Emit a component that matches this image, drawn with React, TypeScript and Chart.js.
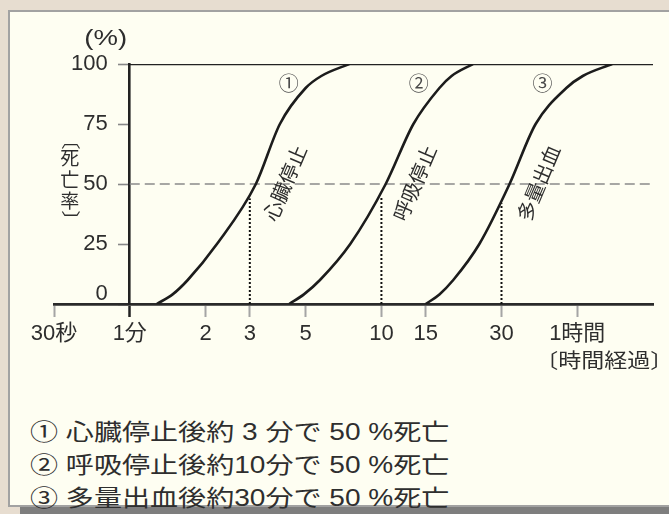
import React, { useEffect, useRef } from 'react';
import { Chart, registerables } from 'chart.js';

Chart.register(...registerables);

// ---- data ----
const xTickValues = [0.5, 1, 2, 3, 5, 10, 15, 30, 60];
const xTickLabels = ['30秒', '1分', '2', '3', '5', '10', '15', '30', '1時間'];
const yTickValues = [0, 25, 50, 75, 100];
const xMin = 0.5;
const xMax = 120;

const deathRate = [0, 4, 10, 25, 50, 75, 90, 95, 100];
const cardiacArrestMin = [1.28, 1.48, 1.7, 2.22, 3.17, 3.95, 5.0, 5.77, 7.45];
const respiratoryArrestMin = [4.3, 4.92, 5.7, 7.52, 10.4, 13.4, 17.0, 19.0, 23.1];
const hemorrhageMin = [15, 17, 19.3, 24.5, 32.3, 41, 54.3, 63.1, 82.6];

const curveNames = ['心臓停止', '呼吸停止', '多量出血'];
const curveMarks = ['①', '②', '③'];
const halfDeathMin = [3, 10, 30];
const halfDeathGuideTop = [44, 45, 42];
const referenceLevel = 50;
const topLevel = 100;

const yTitle = '(%)';
const yName = ['死', '亡', '率'];
const yNameBrackets = ['〔', '〕'];
const xName = '〔時間経過〕';
const notes = [
  '① 心臓停止後約 3 分で 50 %死亡',
  '② 呼吸停止後約10分で 50 %死亡',
  '③ 多量出血後約30分で 50 %死亡',
];

const LATIN = "'Liberation Sans', 'Noto Sans CJK JP', sans-serif";
const CJK = "'Noto Sans CJK JP', sans-serif";
const TEXT = '#2e2e2e';

const annotate = {
  id: 'annotate',
  afterDatasetsDraw(chart: any) {
    const { ctx, scales } = chart;
    const x = scales.x;
    const y = scales.y;
    const axisX = x.getPixelForValue(1);
    ctx.save();
    ctx.fillStyle = TEXT;
    ctx.textAlign = 'center';
    ctx.textBaseline = 'middle';

    // (%)
    ctx.save();
    ctx.translate(axisX - 24, y.getPixelForValue(100) - 25);
    ctx.scale(1.25, 1);
    ctx.font = `22px ${LATIN}`;
    ctx.fillText(yTitle, 0, 0);
    ctx.restore();

    // vertical 〔死亡率〕
    const vx = axisX - 60;
    const vy = y.getPixelForValue(50);
    ctx.font = `19px ${CJK}`;
    const offs = [-26, -4, 17];
    yName.forEach((ch, i) => ctx.fillText(ch, vx, vy + offs[i]));
    const bracket = (ch: string, by: number) => {
      ctx.save();
      ctx.translate(vx, by);
      ctx.rotate(Math.PI / 2);
      ctx.fillText(ch, 0, 0);
      ctx.restore();
    };
    bracket(yNameBrackets[0], vy - 44);
    bracket(yNameBrackets[1], vy + 36);

    // curve labels and marks
    const curves = [cardiacArrestMin, respiratoryArrestMin, hemorrhageMin];
    const mid = deathRate.indexOf(referenceLevel);
    curves.forEach((c, i) => {
      const px = x.getPixelForValue(c[mid]);
      const py = y.getPixelForValue(referenceLevel);
      ctx.save();
      ctx.translate(px + 29, py - 1);
      ctx.rotate((-67 * Math.PI) / 180);
      ctx.font = `20px ${CJK}`;
      ctx.fillText(curveNames[i], 0, 0);
      ctx.restore();
      ctx.save();
      ctx.fillStyle = '#4a4a4a';
      ctx.font = `20px ${CJK}`;
      ctx.fillText(curveMarks[i], px + 33, y.getPixelForValue(92));
      ctx.restore();
    });

    // x title
    ctx.save();
    ctx.translate(x.getPixelForValue(60) - 42, y.getPixelForValue(0) + 56);
    ctx.scale(1.15, 1);
    ctx.textAlign = 'left';
    ctx.font = `20px ${CJK}`;
    ctx.fillText(xName, 0, 0);
    ctx.restore();

    ctx.restore();
  },
};

export default function App() {
  const canvasRef = useRef<HTMLCanvasElement>(null);

  useEffect(() => {
    const canvas = canvasRef.current;
    if (!canvas) return;
    const curves = [cardiacArrestMin, respiratoryArrestMin, hemorrhageMin];
    const chart = new Chart(canvas, {
      type: 'line',
      data: {
        datasets: [
          ...curves.map((c) => ({
            data: c.map((v, i) => ({ x: v, y: deathRate[i] })),
            borderColor: '#1c1c1c',
            borderWidth: 2.6,
            pointRadius: 0,
            cubicInterpolationMode: 'monotone' as const,
            fill: false,
          })),
          {
            data: [
              { x: 1, y: topLevel },
              { x: xMax, y: topLevel },
            ],
            borderColor: '#222',
            borderWidth: 2.6,
            pointRadius: 0,
          },
          {
            data: [
              { x: 1, y: referenceLevel },
              { x: xMax, y: referenceLevel },
            ],
            borderColor: '#8a8a8a',
            borderWidth: 1.3,
            borderDash: [10, 5],
            pointRadius: 0,
          },
          ...halfDeathMin.map((t, i) => ({
            data: [
              { x: t, y: 0 },
              { x: t, y: halfDeathGuideTop[i] },
            ],
            borderColor: '#111',
            borderWidth: 2,
            borderDash: [2, 2],
            pointRadius: 0,
          })),
        ],
      },
      options: {
        animation: false,
        responsive: false,
        layout: { padding: { left: 54, right: 16, top: 64, bottom: 0 } },
        plugins: { legend: { display: false }, tooltip: { enabled: false } },
        scales: {
          x: {
            type: 'logarithmic',
            min: xMin,
            max: xMax,
            afterBuildTicks: (s: any) => {
              s.ticks = xTickValues.map((v) => ({ value: v }));
            },
            afterFit: (s: any) => {
              s.height = 96;
            },
            ticks: {
              autoSkip: false,
              maxRotation: 0,
              padding: 4,
              color: TEXT,
              font: { family: LATIN, size: 22 },
              callback: (_v: any, i: number) => xTickLabels[i],
            },
            grid: {
              drawOnChartArea: false,
              tickLength: 13,
              tickColor: (ctx: any) => (ctx.tick && ctx.tick.value === 1 ? '#222' : '#a5a5a5'),
              tickWidth: (ctx: any) => (ctx.tick && ctx.tick.value === 1 ? 2.5 : 2),
            },
            border: { color: '#2a2a2a', width: 2.8 },
          },
          y: {
            type: 'linear',
            min: 0,
            max: 100,
            position: { x: 1 } as any,
            afterBuildTicks: (s: any) => {
              s.ticks = yTickValues.map((v) => ({ value: v }));
            },
            ticks: {
              padding: 10,
              color: TEXT,
              font: { family: LATIN, size: 22, lineHeight: 0.9 },
              // the em space keeps the label clear of the axis line
              callback: (v: any) => (v === 0 ? ['0\u2003', ''] : String(v) + '\u2003'),
            },
            grid: {
              drawOnChartArea: false,
              tickLength: 10,
              tickColor: '#888',
              tickWidth: 1.6,
            },
            border: { color: '#222', width: 2.6 },
          },
        },
      },
      plugins: [annotate],
    } as any);
    return () => chart.destroy();
  }, []);

  return (
    <div
      style={{
        position: 'fixed',
        left: 0,
        top: 0,
        width: 669,
        height: 514,
        background: '#e7ddd0',
        overflow: 'hidden',
      }}
    >
      <div
        style={{
          position: 'absolute',
          left: 20,
          top: 507,
          width: 660,
          height: 8,
          background: '#7e7e7e',
        }}
      />
      <div
        style={{
          position: 'absolute',
          left: 8,
          top: 10,
          width: 680,
          height: 497,
          background: '#fefef2',
          border: '2px solid #a2a2a2',
          boxSizing: 'border-box',
        }}
      />
      <canvas
        ref={canvasRef}
        width={669}
        height={400}
        style={{ position: 'absolute', left: 0, top: 0, width: 669, height: 400 }}
      />
      {notes.map((n, i) => (
        <div
          key={i}
          style={{
            position: 'absolute',
            left: 30,
            top: 417 + i * 33,
            height: 30,
            lineHeight: '30px',
            fontFamily: LATIN,
            fontSize: 23,
            color: TEXT,
            whiteSpace: 'nowrap',
            transform: 'scaleX(1.22)',
            transformOrigin: 'left center',
          }}
        >
          {n}
        </div>
      ))}
    </div>
  );
}
